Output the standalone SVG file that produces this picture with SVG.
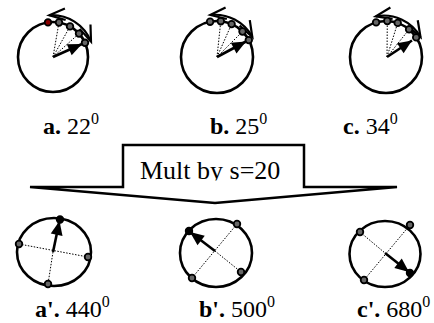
<svg xmlns="http://www.w3.org/2000/svg" width="434" height="323" viewBox="0 0 434 323">
<style>
.c{fill:none;stroke:#000;stroke-width:2.6}
.dt{stroke:#000;stroke-width:1;stroke-dasharray:1.5 1.5;fill:none}
.dot{fill:#666;stroke:#000;stroke-width:1.8}
.dr{fill:#800;stroke:#000;stroke-width:1.8}
.fd{fill:#000;stroke:#000;stroke-width:1.8}
.sh{stroke:#000;stroke-width:2.6;fill:none}
.arc{fill:none;stroke:#000;stroke-width:2.2;marker-start:url(#v);marker-end:url(#v)}
.lbl{font-family:"Liberation Serif","Times New Roman",serif;fill:#000}
.b{font-weight:bold}
</style>
<defs>
<marker id="v" markerUnits="userSpaceOnUse" markerWidth="40" markerHeight="40" viewBox="-20 -20 40 40" refX="0" refY="0" orient="auto-start-reverse">
<path d="M-16,-5.8 L0,0 L-16,5.8" fill="none" stroke="#000" stroke-width="2.2"/>
</marker>
<marker id="h" markerUnits="userSpaceOnUse" markerWidth="30" markerHeight="30" viewBox="-20 -15 30 30" refX="0" refY="0" orient="auto">
<path d="M-14,-6 L0,0 L-14,6 Z" fill="#000"/>
</marker>
<clipPath id="tc"><rect x="0" y="0" width="434" height="180.5"/></clipPath>
</defs>

<g id="panel-a">
<circle class="c" cx="53" cy="57" r="35"/>
<path class="dt" d="M53,57 L59,22.5 M53,57 L70,26.4 M53,57 L79,33.6"/>
<line class="sh" x1="53" y1="57" x2="82" y2="44" marker-end="url(#h)"/>
<path class="arc" d="M49.3,15.2 A42,42 0 0 1 91,41.6"/>
<circle class="dr" cx="48" cy="22.4" r="3.3"/>
<circle class="dot" cx="59" cy="22.5" r="3.3"/>
<circle class="dot" cx="70" cy="26.4" r="3.3"/>
<circle class="dot" cx="79" cy="33.6" r="3.3"/>
<circle class="dot" cx="85" cy="42.8" r="3.3"/>
</g>

<g id="panel-b">
<circle class="c" cx="217" cy="57" r="36"/>
<path class="dt" d="M217,57 L220.8,21.2 M217,57 L231.6,24.1 M217,57 L242.5,31.5"/>
<line class="sh" x1="217" y1="57" x2="246" y2="41.5" marker-end="url(#h)"/>
<path class="arc" d="M210.3,15 A42.5,42.5 0 0 1 252.3,37"/>
<circle class="dot" cx="210.1" cy="21.7" r="3.3"/>
<circle class="dot" cx="220.8" cy="21.2" r="3.3"/>
<circle class="dot" cx="231.6" cy="24.1" r="3.3"/>
<circle class="dot" cx="242.5" cy="31.5" r="3.3"/>
<circle class="dot" cx="248.8" cy="40.1" r="3.3"/>
</g>

<g id="panel-c">
<circle class="c" cx="386" cy="57" r="36"/>
<path class="dt" d="M387,57 L387.3,21 M387,57 L397.7,22.9 M387,57 L409.1,29.4"/>
<line class="sh" x1="387" y1="57" x2="412" y2="40.5" marker-end="url(#h)"/>
<path class="arc" d="M375.8,16.3 A42,42 0 0 1 420.5,37"/>
<circle class="dot" cx="376.1" cy="22.4" r="3.3"/>
<circle class="dot" cx="387.3" cy="21" r="3.3"/>
<circle class="dot" cx="397.7" cy="22.9" r="3.3"/>
<circle class="dot" cx="409.1" cy="29.4" r="3.3"/>
<circle class="dot" cx="416.2" cy="37.4" r="3.3"/>
</g>

<g id="label-a"><text class="lbl" x="43" y="134" font-size="24"><tspan class="b">a.</tspan> 22<tspan font-size="16" dy="-10">0</tspan></text></g>
<g id="label-b"><text class="lbl" x="210" y="134" font-size="24"><tspan class="b">b.</tspan> 25<tspan font-size="16" dy="-10">0</tspan></text></g>
<g id="label-c"><text class="lbl" x="343" y="134" font-size="24"><tspan class="b">c.</tspan> 34<tspan font-size="16" dy="-10">0</tspan></text></g>

<g id="mult-arrow">
<polygon points="30,187 123,187 123,145 304,145 304,187 397,187 215,203" fill="#fff" stroke="#000" stroke-width="2.5" stroke-linejoin="miter"/>
<text class="lbl" x="140" y="179" font-size="26" clip-path="url(#tc)">Mult by s=20</text>
</g>

<g id="panel-a2">
<ellipse class="c" cx="54" cy="252" rx="37" ry="34"/>
<path class="dt" d="M19,244 L88,257 M53,252 L48,284"/>
<line class="sh" x1="53" y1="252" x2="59.5" y2="221" marker-end="url(#h)"/>
<circle class="fd" cx="60" cy="219.5" r="3.3"/>
<circle class="dot" cx="19" cy="244" r="3.3"/>
<circle class="dot" cx="88" cy="257" r="3.3"/>
<circle class="dot" cx="48" cy="284" r="3.3"/>
</g>

<g id="panel-b2">
<ellipse class="c" cx="216" cy="253" rx="36" ry="34"/>
<path class="dt" d="M237,224 L192,278 M215,251 L241,272"/>
<line class="sh" x1="215" y1="251" x2="190" y2="232" marker-end="url(#h)"/>
<circle class="fd" cx="189" cy="231" r="3.3"/>
<circle class="dot" cx="237" cy="224" r="3.3"/>
<circle class="dot" cx="241" cy="272" r="3.3"/>
<circle class="dot" cx="192" cy="278" r="3.3"/>
</g>

<g id="panel-c2">
<ellipse class="c" cx="385" cy="254" rx="35.5" ry="33"/>
<path class="dt" d="M360,232 L385,253 M410,225 L364,280"/>
<line class="sh" x1="385" y1="253" x2="409" y2="272" marker-end="url(#h)"/>
<circle class="fd" cx="410" cy="273" r="3.3"/>
<circle class="dot" cx="360" cy="232" r="3.3"/>
<circle class="dot" cx="410" cy="225" r="3.3"/>
<circle class="dot" cx="364" cy="280" r="3.3"/>
</g>

<g id="label-a2"><text class="lbl" x="35" y="317" font-size="24"><tspan class="b">a'.</tspan> 440<tspan font-size="16" dy="-10">0</tspan></text></g>
<g id="label-b2"><text class="lbl" x="199" y="317" font-size="24"><tspan class="b">b'.</tspan> 500<tspan font-size="16" dy="-10">0</tspan></text></g>
<g id="label-c2"><text class="lbl" x="357" y="317" font-size="24"><tspan class="b">c'.</tspan> 680<tspan font-size="16" dy="-10">0</tspan></text></g>
</svg>
